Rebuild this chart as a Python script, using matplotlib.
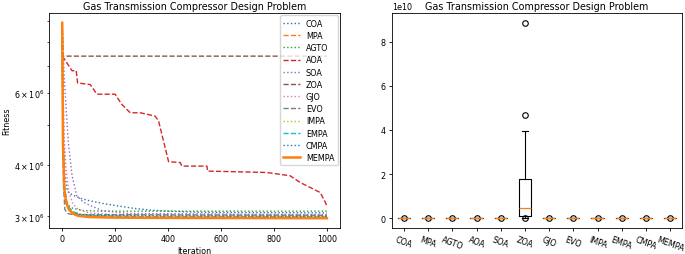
import matplotlib.pyplot as plt

# convergence curves: (iteration, best fitness)
names = ['COA', 'MPA', 'AGTO', 'AOA', 'SOA', 'ZOA', 'GJO', 'EVO',
         'IMPA', 'EMPA', 'CMPA', 'MEMPA']

coa_it = [0, 5, 10, 20, 40, 70, 100, 150, 200, 270, 330, 400, 520, 1000]
coa_val = [8.9e6, 5.0e6, 3.8e6, 3.45e6, 3.38e6, 3.32e6, 3.28e6, 3.23e6,
           3.19e6, 3.14e6, 3.11e6, 3.09e6, 3.07e6, 3.06e6]

mpa_it = [0, 3, 8, 15, 25, 40, 70, 120, 300, 1000]
mpa_val = [8.9e6, 4.6e6, 3.55e6, 3.28e6, 3.14e6, 3.07e6, 3.03e6, 3.01e6,
           2.995e6, 2.99e6]

agto_it = [0, 3, 8, 18, 40, 80, 150, 1000]
agto_val = [8.9e6, 5.0e6, 3.5e6, 3.21e6, 3.14e6, 3.10e6, 3.09e6, 3.09e6]

aoa_it = [0, 5, 37, 53, 58, 106, 131, 200, 225, 257, 295, 351, 364, 402,
          446, 452, 547, 549, 773, 861, 899, 937, 975, 994, 1000]
aoa_val = [7.38e6, 7.31e6, 6.80e6, 6.80e6, 6.35e6, 6.29e6, 5.96e6, 5.96e6,
           5.63e6, 5.37e6, 5.37e6, 5.27e6, 5.13e6, 4.08e6, 4.06e6, 3.98e6,
           3.98e6, 3.87e6, 3.84e6, 3.77e6, 3.63e6, 3.53e6, 3.43e6, 3.25e6,
           3.18e6]

soa_it = [0, 3, 8, 15, 23, 37, 55, 80, 106, 150, 250, 1000]
soa_val = [8.9e6, 7.8e6, 6.5e6, 5.47e6, 4.55e6, 3.78e6, 3.37e6, 3.25e6,
           3.19e6, 3.1e6, 3.05e6, 3.03e6]

zoa_it = [0, 3, 1000]
zoa_val = [8.9e6, 7.38e6, 7.38e6]

gjo_it = [0, 3, 8, 15, 25, 40, 60, 100, 200, 1000]
gjo_val = [8.9e6, 6.0e6, 4.6e6, 3.9e6, 3.45e6, 3.22e6, 3.12e6, 3.06e6,
           3.03e6, 3.01e6]

evo_it = [0, 2, 5, 10, 20, 40, 1000]
evo_val = [8.9e6, 5.0e6, 3.55e6, 3.12e6, 3.05e6, 3.03e6, 3.02e6]

impa_it = [0, 3, 8, 15, 25, 40, 70, 120, 300, 1000]
impa_val = [8.9e6, 4.4e6, 3.5e6, 3.26e6, 3.15e6, 3.08e6, 3.04e6, 3.02e6,
            3.0e6, 2.995e6]

empa_it = [0, 3, 8, 15, 25, 40, 70, 120, 300, 1000]
empa_val = [8.9e6, 4.8e6, 3.6e6, 3.3e6, 3.16e6, 3.08e6, 3.03e6, 3.01e6,
            2.99e6, 2.985e6]

cmpa_it = [0, 3, 8, 15, 25, 40, 70, 120, 300, 1000]
cmpa_val = [8.9e6, 4.3e6, 3.45e6, 3.22e6, 3.12e6, 3.06e6, 3.03e6, 3.02e6,
            3.01e6, 3.0e6]

mempa_it = [0, 3, 8, 15, 25, 40, 60, 100, 200, 400, 1000]
mempa_val = [8.9e6, 4.5e6, 3.5e6, 3.25e6, 3.12e6, 3.05e6, 3.01e6, 2.99e6,
             2.98e6, 2.975e6, 2.97e6]

# box plot statistics of the final fitness per algorithm
box_med = [3.06e6, 2.99e6, 3.09e6, 3.18e6, 3.02e6, 0.45e10, 3.01e6, 3.02e6,
           2.995e6, 2.985e6, 3.0e6, 2.97e6]
box_q1 = [3.05e6, 2.98e6, 3.08e6, 3.1e6, 3.01e6, 0.1e10, 3.0e6, 3.01e6,
          2.99e6, 2.98e6, 2.99e6, 2.97e6]
box_q3 = [3.07e6, 3.0e6, 3.1e6, 3.3e6, 3.03e6, 1.76e10, 3.02e6, 3.03e6,
          3.0e6, 2.99e6, 3.01e6, 2.97e6]
box_lo = [3.04e6, 2.97e6, 3.07e6, 3.0e6, 3.0e6, 7.38e6, 2.99e6, 3.0e6,
          2.98e6, 2.97e6, 2.98e6, 2.97e6]
box_hi = [3.08e6, 3.01e6, 3.11e6, 3.5e6, 3.04e6, 3.93e10, 3.03e6, 3.04e6,
          3.01e6, 3.0e6, 3.02e6, 2.97e6]
box_fliers = [[3.3e6], [3.2e6], [3.3e6], [4.0e6], [3.4e6],
              [7.38e6, 4.69e10, 8.85e10], [3.2e6], [3.3e6], [3.2e6],
              [3.2e6], [3.2e6], [2.98e6]]

curves = [(coa_it, coa_val, ':', 'tab:blue'),
          (mpa_it, mpa_val, '--', 'tab:orange'),
          (agto_it, agto_val, ':', 'tab:green'),
          (aoa_it, aoa_val, '--', 'tab:red'),
          (soa_it, soa_val, ':', 'tab:purple'),
          (zoa_it, zoa_val, '--', 'tab:brown'),
          (gjo_it, gjo_val, ':', 'tab:pink'),
          (evo_it, evo_val, '--', 'tab:gray'),
          (impa_it, impa_val, ':', 'tab:olive'),
          (empa_it, empa_val, '--', 'tab:cyan'),
          (cmpa_it, cmpa_val, ':', 'tab:blue')]

plt.rcParams['font.size'] = 5.8
plt.rcParams['axes.linewidth'] = 0.6
plt.rcParams['xtick.major.size'] = 2.5
plt.rcParams['ytick.major.size'] = 2.5
plt.rcParams['ytick.minor.size'] = 1.5
plt.rcParams['xtick.major.width'] = 0.6
plt.rcParams['ytick.major.width'] = 0.6
plt.rcParams['ytick.minor.width'] = 0.5
plt.rcParams['xtick.major.pad'] = 2
plt.rcParams['ytick.major.pad'] = 2
plt.rcParams['ytick.minor.pad'] = 2
plt.rcParams['axes.labelpad'] = 2
plt.rcParams['axes.titlepad'] = 3

fig = plt.figure(figsize=(6.85, 2.55), dpi=100)
ax1 = fig.add_axes([0.0715, 0.102, 0.425, 0.843])
ax2 = fig.add_axes([0.572, 0.102, 0.424, 0.843])

for name, (it, val, ls, col) in zip(names[:-1], curves):
    ax1.plot(it, val, linestyle=ls, color=col, lw=1.0, label=name)
ax1.plot(mempa_it, mempa_val, color='tab:orange', lw=1.8, label='MEMPA')
ax1.set_yscale('log')
ax1.set_title('Gas Transmission Compressor Design Problem')
ax1.set_xlabel('Iteration')
ax1.set_ylabel('Fitness')
ax1.legend(loc='upper right', borderaxespad=0.3, labelspacing=0.4)

stats = []
for i in range(len(names)):
    stats.append({'label': names[i], 'med': box_med[i], 'q1': box_q1[i],
                  'q3': box_q3[i], 'whislo': box_lo[i],
                  'whishi': box_hi[i], 'fliers': box_fliers[i]})
ax2.bxp(stats,
        boxprops={'linewidth': 0.8},
        whiskerprops={'linewidth': 0.8},
        capprops={'linewidth': 0.8},
        medianprops={'linewidth': 0.9},
        flierprops={'markersize': 4, 'markeredgewidth': 0.8})
ax2.set_title('Gas Transmission Compressor Design Problem')
plt.setp(ax2.get_xticklabels(), rotation=-20)

plt.savefig('out.png')
